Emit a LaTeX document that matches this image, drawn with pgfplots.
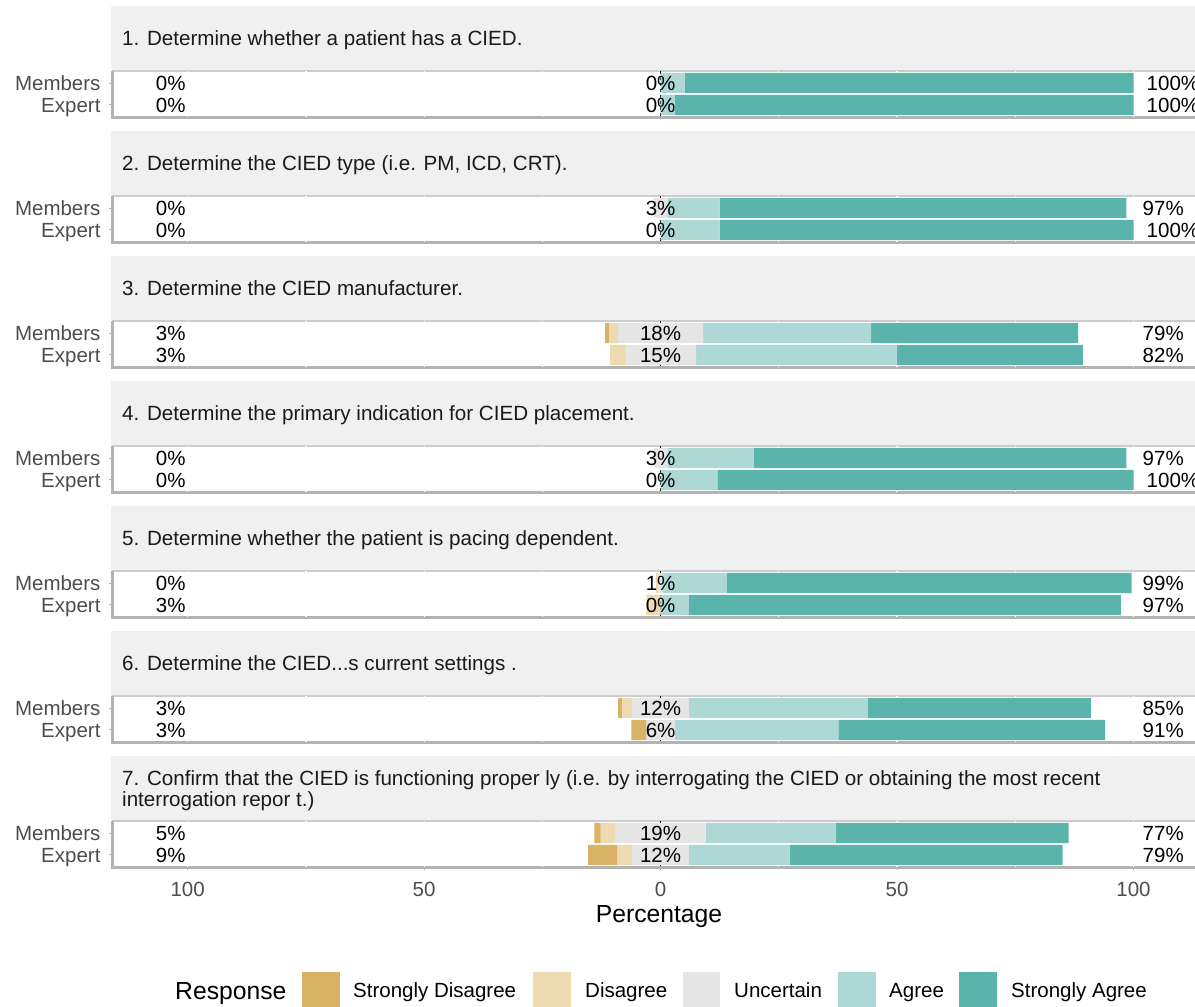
\documentclass[border=0pt]{standalone}
\usepackage{fontspec}
\setmainfont{Liberation Sans}
\usepackage{pgfplots}
\usepackage{pgfplotstable}
\pgfplotsset{compat=1.18}
\definecolor{cSD}{HTML}{D8B365}
\definecolor{cD}{HTML}{EDDAB1}
\definecolor{cU}{HTML}{E5E5E5}
\definecolor{cA}{HTML}{ADD8D5}
\definecolor{cSA}{HTML}{5AB4AC}
\definecolor{stripbg}{HTML}{F0F0F0}
\definecolor{bordergray}{HTML}{B3B3B3}
\definecolor{topgray}{HTML}{CCCCCC}
\definecolor{ticktext}{HTML}{4D4D4D}
\definecolor{striptext}{HTML}{1A1A1A}

\newcommand{\lbl}{\fontsize{20.5pt}{24pt}\selectfont}
\newcommand{\stxt}{\fontsize{20.6pt}{22pt}\selectfont}
\newcommand{\ttl}{\fontsize{24.7pt}{28pt}\selectfont}

% columns: y (2 = Members, 1 = Expert), invisible offset, then the five responses
\pgfplotstableread{
y off SD D U A SA
2 0 0 0 0 5.1 94.9
1 0 0 0 0 3 97
}\tA
\pgfplotstableread{
y off SD D U A SA
2 -1.5 0 0 3 11 86
1 0 0 0 0 12.5 87.5
}\tB
\pgfplotstableread{
y off SD D U A SA
2 -11.8 0.8 2.0 18 35.5 43.8
1 -10.7 0 3.2 15 42.4 39.4
}\tC
\pgfplotstableread{
y off SD D U A SA
2 -1.5 0 0 3 18.2 78.8
1 0 0 0 0 12 88
}\tD
\pgfplotstableread{
y off SD D U A SA
2 -1.0 0 0.6 0.8 13.6 85.6
1 -3 0 3 0 6 91.3
}\tE
\pgfplotstableread{
y off SD D U A SA
2 -9 0.8 2.2 12 37.8 47.2
1 -6.2 3.2 0 6 34.6 56.4
}\tF
\pgfplotstableread{
y off SD D U A SA
2 -14 1.3 3.2 19 27.5 49.3
1 -15.3 6.1 3.2 12 21.3 57.7
}\tG

\pgfplotsset{facet/.style={
  width=1083pt, height=46pt, scale only axis, anchor=north west,
  xmin=-116, xmax=113, ymin=0.45, ymax=2.55,
  axis line style={draw=none},
  xbar stacked, stack negative=on previous, bar width=0.92,
  ytick={1,2}, yticklabels={Expert,Members},
  xtick=\empty,
  tick align=outside, major tick length=3pt,
  tick style={bordergray, line width=1pt},
  xtick pos=bottom, ytick pos=left,
  ticklabel style={font=\lbl, text=ticktext},
  yticklabel style={text height=14.7pt, text depth=0pt, xshift=-5pt},
  /pgf/number format/assume math mode=true,
}}

\newcommand{\bars}[1]{%
  \addplot[draw=none, fill=none] table[x=off,y=y]{#1};
  \addplot[draw=none, fill=cSD] table[x=SD,y=y]{#1};
  \addplot[draw=none, fill=cD] table[x=D,y=y]{#1};
  \addplot[draw=none, fill=cU] table[x=U,y=y]{#1};
  \addplot[draw=none, fill=cA] table[x=A,y=y]{#1};
  \addplot[draw=none, fill=cSA] table[x=SA,y=y]{#1};
}
\tikzset{pl/.style={inner sep=0pt, font=\lbl, text height=14.7pt, text depth=0pt}}
\newcommand{\labels}[7]{%
  \pgfmathsetmacro\ym{-83.05-125*#1}%
  \pgfmathsetmacro\ye{-104.95-125*#1}%
  \node[pl, anchor=east] at (185.7,\ym) {#2};
  \node[pl] at (660.6,\ym) {#3};
  \node[pl, anchor=west] at (1142.5,\ym) {#4};
  \node[pl, anchor=east] at (185.7,\ye) {#5};
  \node[pl] at (660.6,\ye) {#6};
  \node[pl, anchor=west] at (1142.5,\ye) {#7};
}

\begin{document}
\begin{tikzpicture}[x=1pt,y=1pt]
\useasboundingbox (0,0) rectangle (1195,-1007);
% facet strips and panel frames
\foreach \k in {0,...,6} {
  \fill[stripbg] (111,-6-125*\k) rectangle (1195,-70.4-125*\k);
  \pgfmathsetmacro\pt{-71-125*\k}
  \pgfmathsetmacro\pb{-117-125*\k}
  \draw[topgray, line width=1.2pt] (112,\pt) -- (1195,\pt);
  \draw[bordergray, line width=3pt] (112,\pt) -- (112,\pb) -- (1195,\pb);
  \foreach \v in {-100,-75,-50,-25,25,50,75,100} {
    \draw[white, line width=1.2pt] ({660.6+4.72926*\v},\pt) -- ({660.6+4.72926*\v},\pb);
  }
  \draw[black, line width=1pt, dash pattern=on 3pt off 3pt] (660.6,\pt) -- (660.6,\pb);
}
\begin{scope}[every node/.style={anchor=base west, inner sep=0pt, font=\stxt, text=striptext}]
\node at (122,-45) {1. Determine whether a patient has a CIED.};
\node at (122,-170) {2. Determine the CIED type (i.e. PM, ICD, CRT).};
\node at (122,-295) {3. Determine the CIED manufacturer.};
\node at (122,-420) {4. Determine the primary indication for CIED placement.};
\node at (122,-545) {5. Determine whether the patient is pacing dependent.};
\node at (122,-670) {6. Determine the CIED...s current settings .};
\node at (122,-785) {7. Confirm that the CIED is functioning proper ly (i.e. by interrogating the CIED or obtaining the most recent};
\node at (122,-806) {interrogation repor t.)};
\end{scope}

\begin{axis}[facet, at={(112pt,-71pt)}]
\bars{\tA}
\end{axis}
\begin{axis}[facet, at={(112pt,-196pt)}]
\bars{\tB}
\end{axis}
\begin{axis}[facet, at={(112pt,-321pt)}]
\bars{\tC}
\end{axis}
\begin{axis}[facet, at={(112pt,-446pt)}]
\bars{\tD}
\end{axis}
\begin{axis}[facet, at={(112pt,-571pt)}]
\bars{\tE}
\end{axis}
\begin{axis}[facet, at={(112pt,-696pt)}]
\bars{\tF}
\end{axis}
\begin{axis}[facet, at={(112pt,-821pt)},
  xtick={-100,-50,0,50,100}, xticklabels={100,50,0,50,100},
  xticklabel style={yshift=-9pt}]
\bars{\tG}
\end{axis}

% percentage labels
\labels{0}{0\%}{0\%}{\hspace*{4pt}100\%}{0\%}{0\%}{\hspace*{4pt}100\%}
\labels{1}{0\%}{3\%}{97\%}{0\%}{0\%}{\hspace*{4pt}100\%}
\labels{2}{3\%}{18\%}{79\%}{3\%}{15\%}{82\%}
\labels{3}{0\%}{3\%}{97\%}{0\%}{0\%}{\hspace*{4pt}100\%}
\labels{4}{0\%}{1\%}{99\%}{3\%}{0\%}{97\%}
\labels{5}{3\%}{12\%}{85\%}{3\%}{6\%}{91\%}
\labels{6}{5\%}{19\%}{77\%}{9\%}{12\%}{79\%}

% axis title
\node[anchor=base, inner sep=0pt, font=\ttl] at (659,-922) {Percentage};

% legend
\node[anchor=base west, inner sep=0pt, font=\ttl] at (175,-999) {Response};
\fill[cSD] (302,-972) rectangle (340,-1012);
\fill[cD]  (533,-972) rectangle (571,-1012);
\fill[cU]  (683,-972) rectangle (720,-1012);
\fill[cA]  (838,-972) rectangle (876,-1012);
\fill[cSA] (959,-972) rectangle (997,-1012);
\begin{scope}[every node/.style={anchor=base west, inner sep=0pt, font=\lbl}]
\node at (353,-997) {Strongly Disagree};
\node at (585,-997) {Disagree};
\node at (734,-997) {Uncertain};
\node at (889,-997) {Agree};
\node at (1011,-997) {Strongly Agree};
\end{scope}
\end{tikzpicture}
\end{document}
